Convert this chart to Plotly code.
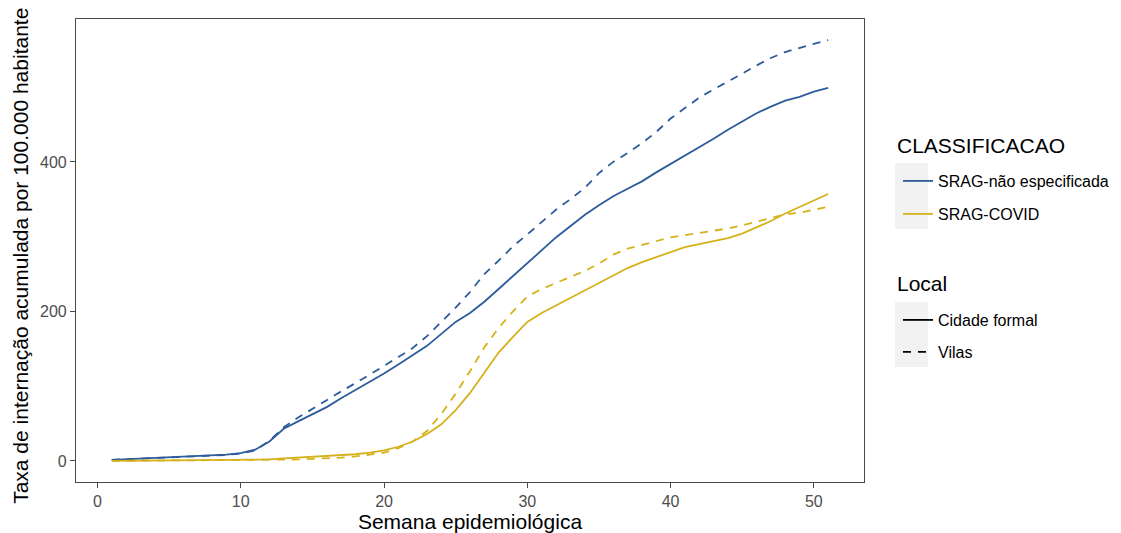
import plotly.graph_objects as go

weeks = list(range(1, 52))

# SRAG-não especificada
nesp_cidade = [1.5, 2.5, 3.3, 4.2, 5, 5.8, 6.6, 7.5, 8.5, 10.5,
               15, 26, 43, 53, 63, 72, 84, 95, 105, 117,
               129, 142, 154, 170, 186, 198, 213, 230, 247, 264,
               282, 299, 314, 329, 342, 354, 364, 374, 386, 397,
               408, 420, 431, 443, 454, 465, 474, 482, 487, 494, 499]
nesp_vilas = [1.5, 2.3, 3, 3.8, 4.6, 5.4, 6.2, 7, 8, 10,
              14, 27, 45, 58, 70, 81, 93, 104, 115, 127,
              139, 151, 167, 186, 205, 226, 250, 268, 287, 303,
              320, 336, 350, 365, 385, 400, 412, 425, 440, 458,
              472, 486, 497, 507, 518, 529, 539, 547, 553, 558, 563]
# SRAG-COVID
covid_cidade = [0, 0.1, 0.2, 0.3, 0.4, 0.5, 0.6, 0.7, 0.8, 1,
                1.3, 2, 3.5, 4.5, 5.5, 6.5, 7.5, 9, 11, 14,
                19, 26, 36, 49, 68, 91, 118, 145, 166, 186,
                198, 208, 218, 228, 239, 249, 258, 266, 273, 280,
                286, 290, 294, 298, 304, 312, 321, 331, 340, 349, 357]
covid_vilas = [0, 0.1, 0.2, 0.3, 0.4, 0.5, 0.6, 0.7, 0.8, 0.9,
               1, 1, 1.5, 2, 2.8, 3.5, 4.5, 6, 8, 11,
               17, 26, 40, 63, 90, 120, 152, 178, 200, 220,
               230, 238, 246, 254, 264, 276, 284, 289, 295, 299,
               302, 305, 308, 311, 315, 320, 325, 330, 332, 336, 340]

x_ticks = [0, 10, 20, 30, 40, 50]
y_ticks = [0, 200, 400]

BLUE = "#2D5B9B"
YELLOW = "#D5B11A"
DASH = "8px,7px"
FONT = "Liberation Sans, Arial, sans-serif"

OFF = 8  # page body margin
FW, FH = 1113, 525
ML, MT = 68, 11
MR = FW - 856
MB = FH - 474
PW, PH = FW - ML - MR, FH - MT - MB


def px_x(screen):
    return (screen - OFF - ML) / PW


def px_y(screen):
    return (FH - MB - (screen - OFF)) / PH


fig = go.Figure()

series = [
    (nesp_cidade, BLUE, "solid"),
    (nesp_vilas, BLUE, DASH),
    (covid_cidade, YELLOW, "solid"),
    (covid_vilas, YELLOW, DASH),
]
for vals, col, dash in series:
    fig.add_trace(go.Scatter(x=weeks, y=vals, mode="lines",
                             line=dict(color=col, width=1.8, dash=dash),
                             showlegend=False, hoverinfo="x+y"))

legend_entries = [
    ("SRAG-não especificada", BLUE, "solid", "legend", 181),
    ("SRAG-COVID", YELLOW, "solid", "legend2", 214),
    ("Cidade formal", "black", "solid", "legend3", 320),
    ("Vilas", "black", DASH, "legend4", 352),
]
for name, col, dash, lg, _ in legend_entries:
    fig.add_trace(go.Scatter(x=[None], y=[None], mode="lines", name=name,
                             line=dict(color=col, width=1.8, dash=dash),
                             legend=lg, showlegend=True))

max_y = max(max(nesp_vilas), max(nesp_cidade), max(covid_cidade), max(covid_vilas))
span_x = weeks[-1] - weeks[0]

axis_common = dict(showgrid=False, zeroline=False, showline=True, mirror=True,
                   linecolor="#4a4a4a", linewidth=1.2, ticks="outside", ticklen=5,
                   tickcolor="#4a4a4a", tickwidth=1.2,
                   tickfont=dict(family=FONT, size=16, color="#4D4D4D"))

fig.update_layout(
    width=FW, height=FH,
    margin=dict(l=ML, r=MR, t=MT, b=MB, pad=0, autoexpand=False),
    paper_bgcolor="white", plot_bgcolor="white",
    font=dict(family=FONT, color="black"),
    xaxis=dict(range=[weeks[0] - 0.05 * span_x, weeks[-1] + 0.05 * span_x],
               tickvals=x_ticks, automargin=False,
               title=dict(text="Semana epidemiológica", font=dict(size=21, family=FONT),
                          standoff=3),
               **axis_common),
    yaxis=dict(range=[-0.05 * max_y, 1.05 * max_y], tickvals=y_ticks, automargin=False,
               title=dict(text="Taxa de internação acumulada por 100.000 habitantes",
                          font=dict(size=21, family=FONT), standoff=5),
               **axis_common),
)

leg_layout = {}
for name, col, dash, lg, yc in legend_entries:
    leg_layout[lg] = dict(x=px_x(898), xanchor="left", y=px_y(yc), yanchor="middle",
                          bgcolor="rgba(0,0,0,0)", borderwidth=0,
                          font=dict(family=FONT, size=16, color="black"))
fig.update_layout(**leg_layout)

# legend group titles
for text, yc in [("CLASSIFICACAO", 145), ("Local", 283)]:
    fig.add_annotation(text=text, xref="paper", yref="paper",
                       x=px_x(895), y=px_y(yc), xanchor="left", yanchor="middle",
                       showarrow=False, font=dict(family=FONT, size=21, color="black"))

# legend key backgrounds (ggplot style)
for top, bot in [(163, 229), (302, 367)]:
    fig.add_shape(type="rect", xref="paper", yref="paper",
                  x0=px_x(895), x1=px_x(928), y0=px_y(bot), y1=px_y(top),
                  fillcolor="#F2F2F2", line=dict(width=0), layer="below")

fig.write_html("out.html")
